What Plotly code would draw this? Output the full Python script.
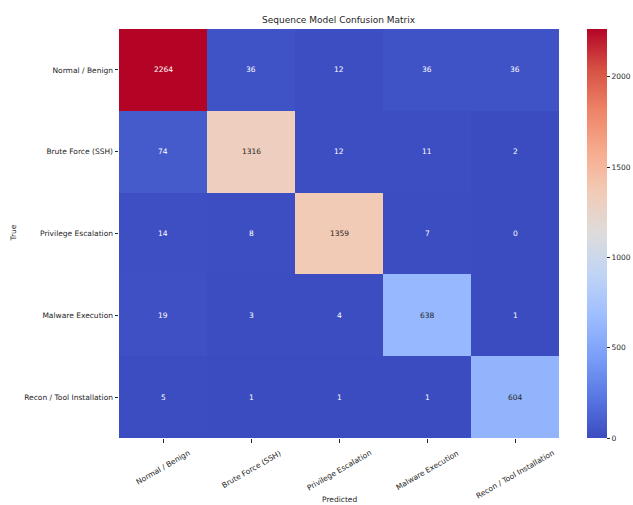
import plotly.graph_objects as go

labels = ["Normal / Benign", "Brute Force (SSH)", "Privilege Escalation",
          "Malware Execution", "Recon / Tool Installation"]
row_normal = [2264, 36, 12, 36, 36]
row_brute = [74, 1316, 12, 11, 2]
row_priv = [14, 8, 1359, 7, 0]
row_malware = [19, 3, 4, 638, 1]
row_recon = [5, 1, 1, 1, 604]
z = [row_normal, row_brute, row_priv, row_malware, row_recon]
cbar_ticks = [0, 500, 1000, 1500, 2000]

coolwarm_hex = ["#3b4cc0", "#5977e3", "#7b9ff9", "#9ebeff", "#c0d4f5", "#dddcdc",
                "#f2cbb7", "#f7ac8e", "#ee8468", "#d65244", "#b40426"]
n = len(coolwarm_hex) - 1
colorscale = [[i / n, c] for i, c in enumerate(coolwarm_hex)]

zmin = min(min(r) for r in z)
zmax = max(max(r) for r in z)


def hex2rgb(h):
    h = h.lstrip("#")
    return [int(h[i:i + 2], 16) / 255 for i in (0, 2, 4)]


def color_at(v):
    f = (v - zmin) / (zmax - zmin)
    pos = f * n
    i = min(int(pos), n - 1)
    t = pos - i
    a, b = hex2rgb(coolwarm_hex[i]), hex2rgb(coolwarm_hex[i + 1])
    return [a[k] + (b[k] - a[k]) * t for k in range(3)]


def lum(rgb):
    def ch(c):
        return c / 12.92 if c <= 0.03928 else ((c + 0.055) / 1.055) ** 2.4
    r, g, b = (ch(c) for c in rgb)
    return 0.2126 * r + 0.7152 * g + 0.0722 * b


FONT = "DejaVu Sans"
TXT = "#262626"

fig = go.Figure(go.Heatmap(
    z=z, x=labels, y=labels, colorscale=colorscale, zmin=zmin, zmax=zmax,
    xgap=0, ygap=0,
    colorbar=dict(
        x=1.0637, xanchor="left", y=0.5, yanchor="middle", len=1, lenmode="fraction",
        thickness=20, thicknessmode="pixels", outlinewidth=0, xpad=0, ypad=0,
        tickvals=cbar_ticks, ticks="outside", ticklen=3.5, tickwidth=0.8,
        tickcolor=TXT, tickfont=dict(family=FONT, size=7.5, color=TXT),
    ),
))

annotations = []
for i, row in enumerate(z):
    for j, v in enumerate(row):
        col = "#ffffff" if lum(color_at(v)) <= 0.408 else TXT
        annotations.append(dict(x=labels[j], y=labels[i], text=str(v), showarrow=False,
                                font=dict(family=FONT, size=7.5, color=col)))

# rotated x tick labels, centred on their ticks (matplotlib rotation=30 style)
for lab in labels:
    annotations.append(dict(x=lab, xref="x", y=0, yref="paper", yshift=-8, text=lab,
                            textangle=-30, showarrow=False, xanchor="center", yanchor="top",
                            font=dict(family=FONT, size=7.5, color=TXT)))

annotations.append(dict(xref="paper", yref="paper", x=0.5, y=1, yshift=9, text="Sequence Model Confusion Matrix",
                        showarrow=False, font=dict(family=FONT, size=9, color=TXT), yanchor="middle"))
annotations.append(dict(xref="paper", yref="paper", x=0.5, y=0, yshift=-61, text="Predicted",
                        showarrow=False, font=dict(family=FONT, size=7.5, color=TXT), yanchor="middle"))
annotations.append(dict(xref="paper", yref="paper", x=0, xshift=-106, y=0.5, text="True", textangle=-90,
                        showarrow=False, font=dict(family=FONT, size=7.5, color=TXT), xanchor="center"))

fig.update_layout(
    width=633, height=505, autosize=False,
    margin=dict(l=119.3, r=74, t=29.3, b=67, pad=0, autoexpand=False),
    paper_bgcolor="white", plot_bgcolor="white",
    annotations=annotations,
    font=dict(family=FONT, size=7.5, color=TXT),
)
fig.update_xaxes(showticklabels=False, ticks="outside", ticklen=3.5, tickwidth=0.8, tickcolor=TXT,
                 showgrid=False, zeroline=False, showline=False, automargin=False)
fig.update_yaxes(autorange="reversed", ticks="outside", ticklen=3.5, tickwidth=0.8, tickcolor=TXT,
                 tickfont=dict(family=FONT, size=7.5, color=TXT), showgrid=False, zeroline=False,
                 showline=False, automargin=False)

fig.write_html("out.html")
